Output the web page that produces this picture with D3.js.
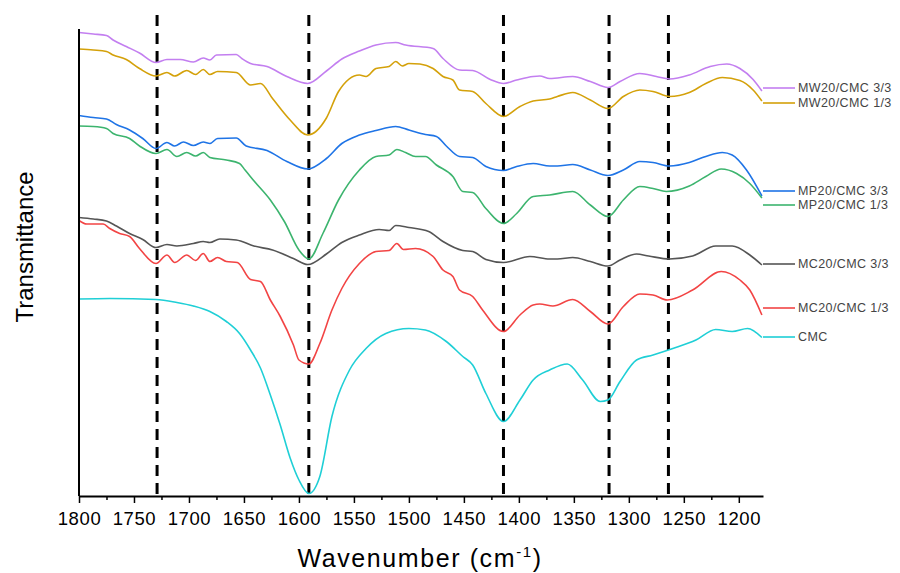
<!DOCTYPE html>
<head>
  <meta charset="utf-8">
  <title>FTIR overview</title>
  <style>
    body { margin: 0; background: #fff; }
    text { font-family: "Liberation Sans", Arial, sans-serif; }
  </style>
</head>

<script src="https://d3js.org/d3.v7.min.js"></script>

<div id="my_dataviz"></div>

<script>

  // spectra: [wavenumber, transmittance (a.u., stacked)]
  const mw33 = [[1800,93.5],[1787,93.2],[1775,92.9],[1769,92.0],[1757,90.7],[1745,89.4],[1730,87.5],[1720,88.1],[1708,88.1],[1696,87.6],[1687,88.4],[1681,88.0],[1675,89.0],[1657,89.1],[1652,88.3],[1644,87.3],[1629,86.7],[1611,84.7],[1592,83.3],[1575,85.8],[1561,88.2],[1545,89.8],[1530,91.0],[1512,91.5],[1503,91.0],[1478,90.3],[1469,88.3],[1454,86.0],[1442,85.9],[1426,84.1],[1414,83.3],[1402,84.0],[1387,84.7],[1381,84.8],[1372,84.3],[1351,84.7],[1335,83.7],[1319,82.5],[1308,83.7],[1290,85.3],[1275,84.7],[1263,84.2],[1245,85.0],[1226,86.7],[1211,87.2],[1199,86.3],[1187,84.1],[1179,81.8]]
  const mw13 = [[1800,90.2],[1787,90.0],[1775,89.7],[1769,89.0],[1757,88.1],[1745,86.3],[1730,84.8],[1720,85.5],[1713,84.8],[1702,85.9],[1694,85.1],[1687,86.1],[1681,85.1],[1674,85.7],[1657,85.5],[1644,83.0],[1635,83.3],[1624,80.3],[1608,76.0],[1592,73.0],[1575,76.4],[1564,81.7],[1545,85.0],[1539,84.7],[1530,86.3],[1518,86.7],[1512,87.7],[1506,86.8],[1500,87.3],[1490,87.2],[1478,86.3],[1469,84.7],[1460,84.0],[1454,82.0],[1442,81.7],[1430,79.3],[1414,76.7],[1399,78.7],[1387,79.8],[1372,80.2],[1365,80.7],[1351,81.5],[1335,80.0],[1319,78.3],[1305,80.7],[1290,82.0],[1278,81.7],[1263,80.7],[1245,81.5],[1230,83.3],[1215,84.5],[1199,83.9],[1187,82.0],[1179,79.8]]
  const mp33 = [[1800,76.9],[1787,76.5],[1775,76.2],[1766,75.1],[1754,74.0],[1742,72.3],[1730,70.3],[1720,71.5],[1713,70.8],[1705,71.6],[1696,70.9],[1687,71.6],[1681,71.3],[1674,72.3],[1657,72.4],[1648,70.8],[1629,69.9],[1611,67.7],[1592,66.2],[1575,68.3],[1561,71.3],[1545,73.0],[1530,73.9],[1512,74.7],[1500,74.0],[1485,73.1],[1475,72.7],[1466,70.8],[1454,68.7],[1442,68.5],[1430,66.7],[1414,65.9],[1402,66.7],[1387,67.3],[1372,66.8],[1365,66.8],[1351,67.1],[1335,66.0],[1319,64.9],[1305,66.0],[1290,67.7],[1278,67.5],[1263,66.8],[1245,67.5],[1230,68.7],[1215,69.5],[1206,69.0],[1193,66.0],[1179,60.8]]
  const mp13 = [[1800,74.8],[1787,74.7],[1775,74.3],[1769,73.3],[1754,72.3],[1745,70.8],[1730,69.3],[1720,70.1],[1711,68.7],[1702,69.5],[1694,68.8],[1687,69.5],[1681,68.5],[1666,68.0],[1654,67.3],[1649,66.0],[1640,63.6],[1626,60.0],[1613,55.6],[1600,50.0],[1591,48.2],[1578,53.4],[1564,60.0],[1545,66.0],[1530,68.7],[1518,69.0],[1511,70.1],[1503,69.5],[1494,68.7],[1485,68.7],[1475,67.0],[1460,64.7],[1451,61.7],[1442,61.5],[1430,58.3],[1414,55.3],[1402,57.3],[1387,60.7],[1372,61.0],[1351,61.7],[1335,59.0],[1319,56.7],[1305,60.0],[1290,62.7],[1278,62.3],[1266,61.7],[1245,62.8],[1230,64.7],[1216,66.2],[1202,65.3],[1190,63.3],[1179,60.4]]
  const mc33 = [[1800,56.5],[1787,56.2],[1775,55.8],[1766,54.8],[1754,53.3],[1742,52.1],[1730,50.5],[1720,51.1],[1711,50.8],[1696,51.3],[1687,51.7],[1681,51.5],[1672,52.2],[1657,52.0],[1641,50.8],[1624,50.0],[1605,48.3],[1592,47.1],[1575,49.2],[1561,51.5],[1545,53.0],[1527,54.1],[1518,53.9],[1512,54.9],[1500,54.5],[1482,53.7],[1469,51.7],[1451,49.9],[1442,49.7],[1430,48.1],[1414,47.5],[1390,48.7],[1372,48.2],[1365,48.2],[1351,48.5],[1335,47.7],[1319,46.8],[1308,48.0],[1293,49.2],[1282,48.8],[1263,48.2],[1242,48.8],[1221,50.8],[1206,50.8],[1190,49.0],[1179,47.0]]
  const mc13 = [[1800,55.9],[1793,55.2],[1778,55.2],[1772,54.3],[1763,53.3],[1754,52.7],[1745,50.3],[1730,47.3],[1720,49.0],[1713,47.5],[1702,49.0],[1694,47.9],[1687,49.3],[1681,47.7],[1674,48.5],[1666,47.7],[1656,47.5],[1644,44.1],[1635,43.7],[1626,40.0],[1617,36.7],[1605,31.0],[1600,28.0],[1591,27.2],[1581,31.3],[1570,38.0],[1561,42.3],[1545,47.3],[1530,49.7],[1518,49.9],[1511,51.3],[1505,50.1],[1494,50.3],[1478,48.7],[1469,46.0],[1460,44.7],[1454,42.0],[1442,40.7],[1433,38.0],[1414,33.7],[1399,37.0],[1387,39.0],[1381,39.2],[1369,38.8],[1351,40.1],[1335,37.7],[1319,35.2],[1305,38.7],[1290,41.2],[1278,41.0],[1265,40.0],[1242,42.0],[1216,45.7],[1199,44.0],[1190,42.0],[1179,37.0]]
  const cmc = [[1800,40.2],[1772,40.3],[1730,40.1],[1711,39.5],[1696,38.8],[1681,37.7],[1666,35.7],[1654,33.3],[1644,30.0],[1635,26.4],[1626,21.0],[1617,15.0],[1608,8.4],[1600,4.0],[1591,1.3],[1581,4.7],[1570,16.7],[1554,26.0],[1539,30.3],[1521,33.3],[1500,34.3],[1485,34.0],[1466,31.7],[1451,28.7],[1442,27.0],[1430,21.3],[1414,15.7],[1399,20.0],[1387,24.0],[1372,26.0],[1356,27.2],[1342,24.0],[1326,19.7],[1319,20.0],[1308,23.7],[1293,28.0],[1278,29.0],[1260,30.3],[1239,32.0],[1221,34.1],[1206,33.7],[1192,34.3],[1179,32.5]]

  const seriesNames = ["MW20/CMC 3/3", "MW20/CMC 1/3", "MP20/CMC 3/3", "MP20/CMC 1/3", "MC20/CMC 3/3", "MC20/CMC 1/3", "CMC"]
  const seriesData = [mw33, mw13, mp33, mp13, mc33, mc13, cmc]
  const seriesColors = ["#c37ff0", "#d4a10a", "#1f74e6", "#3cb46e", "#555555", "#f24444", "#1fcfd6"]

  // marked bands (dashed lines)
  const peakLines = [1729, 1591, 1414, 1318, 1264]

  const xTicks = [1800, 1750, 1700, 1650, 1600, 1550, 1500, 1450, 1400, 1350, 1300, 1250, 1200]
  const xMinorTicks = [1775, 1725, 1675, 1625, 1575, 1525, 1475, 1425, 1375, 1325, 1275, 1225]

  // legend row positions (px from top of svg)
  const legendRows = [88, 103, 191, 205, 264, 308, 337]

  const margin = {top: 29, right: 137, bottom: 77, left: 79},
      width = 900 - margin.left - margin.right,
      height = 573 - margin.top - margin.bottom;

  const root = d3.select("#my_dataviz")
    .append("svg")
      .attr("width", 900)
      .attr("height", 573)
  const svg = root.append("g")
      .attr("transform", `translate(${margin.left},${margin.top})`);

  const x = d3.scaleLinear()
    .domain([1800, 1178])
    .range([0, width]);

  const y = d3.scaleLinear()
    .domain([0.8, 94.2])
    .range([height, 0]);

  // dashed guide lines
  svg.append("g")
    .selectAll("line")
    .data(peakLines)
    .join("line")
      .attr("x1", d => x(d))
      .attr("x2", d => x(d))
      .attr("y1", -14)
      .attr("y2", height)
      .attr("stroke", "black")
      .attr("stroke-width", 3)
      .attr("stroke-dasharray", "11,7")

  const line = d3.line()
    .x(d => x(d[0]))
    .y(d => y(d[1]))
    .curve(d3.curveMonotoneX)

  svg.append("g")
    .selectAll("path")
    .data(seriesData)
    .join("path")
      .attr("fill", "none")
      .attr("stroke", (d, i) => seriesColors[i])
      .attr("stroke-width", 1.6)
      .attr("d", line)

  // x axis: minor ticks then major
  svg.append("g")
    .attr("transform", `translate(0, ${height})`)
    .call(d3.axisBottom(x).tickValues(xMinorTicks).tickSize(4).tickFormat(""))
    .call(g => g.select(".domain").remove())
    .selectAll("line").attr("stroke-width", 1.5)

  const xAxis = svg.append("g")
    .attr("transform", `translate(0, ${height})`)
    .call(d3.axisBottom(x).tickValues(xTicks).tickSize(7).tickSizeOuter(0).tickPadding(9).tickFormat(d3.format("d")))
  xAxis.select(".domain").attr("stroke-width", 2)
  xAxis.selectAll(".tick line").attr("stroke-width", 1.5)
  xAxis.selectAll("text")
    .attr("font-size", 18.5)
    .attr("letter-spacing", 0.6)
    .attr("fill", "black")
    .style("font-family", "'Liberation Sans', Arial, sans-serif")

  // y axis: plain line, no ticks
  svg.append("line")
    .attr("x1", 0).attr("x2", 0)
    .attr("y1", 0).attr("y2", height)
    .attr("stroke", "black")
    .attr("stroke-width", 2)

  // axis titles
  const xt = root.append("text")
    .attr("x", 420)
    .attr("y", 567)
    .attr("text-anchor", "middle")
    .attr("font-size", 25)
    .attr("letter-spacing", 1.6)
  xt.append("tspan").text("Wavenumber (cm")
  xt.append("tspan").attr("font-size", 15).attr("dy", -10).text("-1")
  xt.append("tspan").attr("dy", 10).text(")")

  root.append("text")
    .attr("transform", "translate(33, 247) rotate(-90)")
    .attr("text-anchor", "middle")
    .attr("font-size", 24)
    .text("Transmittance")

  // legend
  const legend = root.append("g")
    .selectAll("g")
    .data(seriesNames)
    .join("g")
      .attr("transform", (d, i) => `translate(763, ${legendRows[i]})`)
  legend.append("line")
    .attr("x1", 0).attr("x2", 32)
    .attr("stroke", (d, i) => seriesColors[i])
    .attr("stroke-width", 1.6)
  legend.append("text")
    .attr("x", 35)
    .attr("dy", "0.35em")
    .attr("font-size", 12.5)
    .attr("letter-spacing", 0.4)
    .attr("fill", "#444")
    .text(d => d)

</script>
